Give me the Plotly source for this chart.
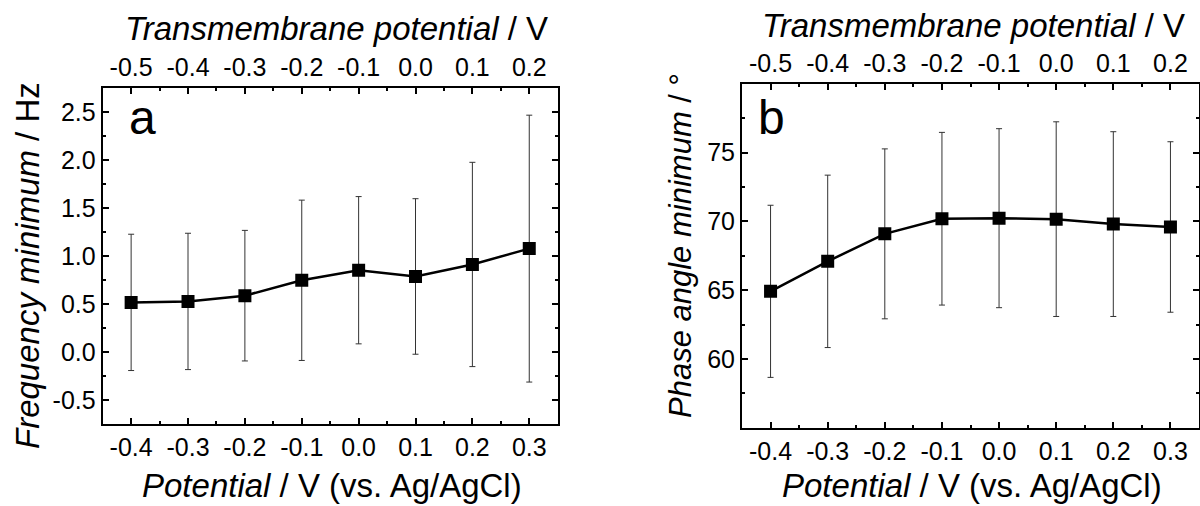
import plotly.graph_objects as go

# ---------------- data ----------------
potential = [-0.4, -0.3, -0.2, -0.1, 0.0, 0.1, 0.2, 0.3]
freq_min = [0.52, 0.53, 0.59, 0.75, 0.855, 0.79, 0.915, 1.08]
freq_err = [0.71, 0.71, 0.68, 0.835, 0.767, 0.81, 1.064, 1.39]
phase_min = [64.92, 67.1, 69.1, 70.2, 70.24, 70.17, 69.81, 69.6]
phase_err = [6.26, 6.27, 6.18, 6.28, 6.51, 7.08, 6.72, 6.2]

bottom_tickvals = [-0.4, -0.3, -0.2, -0.1, 0.0, 0.1, 0.2, 0.3]
bottom_ticktext = ["-0.4", "-0.3", "-0.2", "-0.1", "0.0", "0.1", "0.2", "0.3"]
top_tickvals = [-0.5, -0.4, -0.3, -0.2, -0.1, 0.0, 0.1, 0.2]
top_ticktext = ["-0.5", "-0.4", "-0.3", "-0.2", "-0.1", "0.0", "0.1", "0.2"]
freq_tickvals = [-0.5, 0.0, 0.5, 1.0, 1.5, 2.0, 2.5]
freq_ticktext = ["-0.5", "0.0", "0.5", "1.0", "1.5", "2.0", "2.5"]
phase_tickvals = [60, 65, 70, 75]
phase_ticktext = ["60", "65", "70", "75"]

FONT = "Liberation Sans, Arial, sans-serif"
W, H = 1200, 506
TICKFONT = dict(family=FONT, size=25, color="black")
TITLEFONT = dict(family=FONT, size=33, color="black")


def px_x(p):
    return p / W


def px_y(p):
    return 1 - p / H


fig = go.Figure()

fig.add_trace(go.Scatter(
    x=potential, y=freq_min, xaxis="x", yaxis="y", mode="lines+markers",
    line=dict(color="black", width=2.5),
    marker=dict(symbol="square", size=13, color="black"),
    error_y=dict(type="data", array=freq_err, visible=True, color="#333333",
                 thickness=1, width=3),
    showlegend=False))

fig.add_trace(go.Scatter(
    x=potential, y=phase_min, xaxis="x3", yaxis="y2", mode="lines+markers",
    line=dict(color="black", width=2.5),
    marker=dict(symbol="square", size=13, color="black"),
    error_y=dict(type="data", array=phase_err, visible=True, color="#333333",
                 thickness=1, width=3),
    showlegend=False))

common_ax = dict(showline=True, linecolor="black", linewidth=2,
                 ticks="inside", ticklen=6, tickwidth=1.5, tickcolor="black",
                 showgrid=False, zeroline=False, tickfont=TICKFONT)

xa_dom = [px_x(102.7), px_x(557.7)]
ya_dom = [px_y(424.3), px_y(88.3)]
xb_dom = [px_x(742), px_x(1199)]
yb_dom = [px_y(427.7), px_y(84)]

xminor = dict(ticks="inside", ticklen=3, tickwidth=1.5, tickcolor="black", dtick=0.05)

fig.update_layout(
    width=W, height=H, margin=dict(l=0, r=0, t=0, b=0),
    paper_bgcolor="white", plot_bgcolor="white",
    xaxis=dict(domain=xa_dom, anchor="y", range=[-0.45, 0.35],
               tickvals=bottom_tickvals, ticktext=bottom_ticktext,
               mirror=True, minor=xminor, **common_ax),
    xaxis2=dict(domain=xa_dom, anchor="y", overlaying="x", side="top",
                range=[-0.55, 0.25], tickvals=top_tickvals, ticktext=top_ticktext,
                minor=xminor, **common_ax),
    yaxis=dict(domain=ya_dom, anchor="x", range=[-0.75, 2.75],
               tickvals=freq_tickvals, ticktext=freq_ticktext, mirror="ticks",
               minor=dict(ticks="inside", ticklen=3, tickwidth=1.5, tickcolor="black", dtick=0.25),
               **common_ax),
    xaxis3=dict(domain=xb_dom, anchor="y2", range=[-0.45, 0.35],
                tickvals=bottom_tickvals, ticktext=bottom_ticktext,
                mirror=True, minor=xminor, **common_ax),
    xaxis4=dict(domain=xb_dom, anchor="y2", overlaying="x3", side="top",
                range=[-0.55, 0.25], tickvals=top_tickvals, ticktext=top_ticktext,
                minor=xminor, **common_ax),
    yaxis2=dict(domain=yb_dom, anchor="x3", range=[55, 80],
                tickvals=phase_tickvals, ticktext=phase_ticktext, mirror="ticks",
                minor=dict(ticks="inside", ticklen=3, tickwidth=1.5, tickcolor="black", dtick=2.5),
                **common_ax),
)

# empty traces so the top axes render
fig.add_trace(go.Scatter(x=[None], y=[None], xaxis="x2", yaxis="y", showlegend=False))
fig.add_trace(go.Scatter(x=[None], y=[None], xaxis="x4", yaxis="y2", showlegend=False))

ann = []
# top titles
ann.append(dict(text="<i>Transmembrane potential</i> / V", x=px_x(336), y=px_y(28),
                xref="paper", yref="paper", showarrow=False, font=TITLEFONT,
                xanchor="center", yanchor="middle"))
ann.append(dict(text="<i>Transmembrane potential</i> / V", x=px_x(973), y=px_y(25),
                xref="paper", yref="paper", showarrow=False, font=TITLEFONT,
                xanchor="center", yanchor="middle"))
# bottom titles
ann.append(dict(text="<i>Potential</i> / V (vs. Ag/AgCl)", x=px_x(332), y=0,
                xref="paper", yref="paper", showarrow=False, font=TITLEFONT,
                xanchor="center", yanchor="bottom"))
ann.append(dict(text="<i>Potential</i> / V (vs. Ag/AgCl)", x=px_x(972), y=0,
                xref="paper", yref="paper", showarrow=False, font=TITLEFONT,
                xanchor="center", yanchor="bottom"))
# y titles
ann.append(dict(text="<i>Frequency minimum</i> / Hz", x=px_x(27), y=px_y(266),
                xref="paper", yref="paper", showarrow=False, font=TITLEFONT,
                textangle=-90, xanchor="center", yanchor="middle"))
ann.append(dict(text="<i>Phase angle minimum</i> / °", x=px_x(680), y=px_y(246),
                xref="paper", yref="paper", showarrow=False,
                font=dict(family=FONT, size=31, color="black"),
                textangle=-90, xanchor="center", yanchor="middle"))
# panel letters
ann.append(dict(text="a", x=px_x(127), y=px_y(117), xref="paper", yref="paper",
                showarrow=False, font=dict(family=FONT, size=48, color="black"),
                xanchor="left", yanchor="middle"))
ann.append(dict(text="b", x=px_x(756), y=px_y(117), xref="paper", yref="paper",
                showarrow=False, font=dict(family=FONT, size=48, color="black"),
                xanchor="left", yanchor="middle"))
fig.update_layout(annotations=ann)

fig.write_html("out.html")
